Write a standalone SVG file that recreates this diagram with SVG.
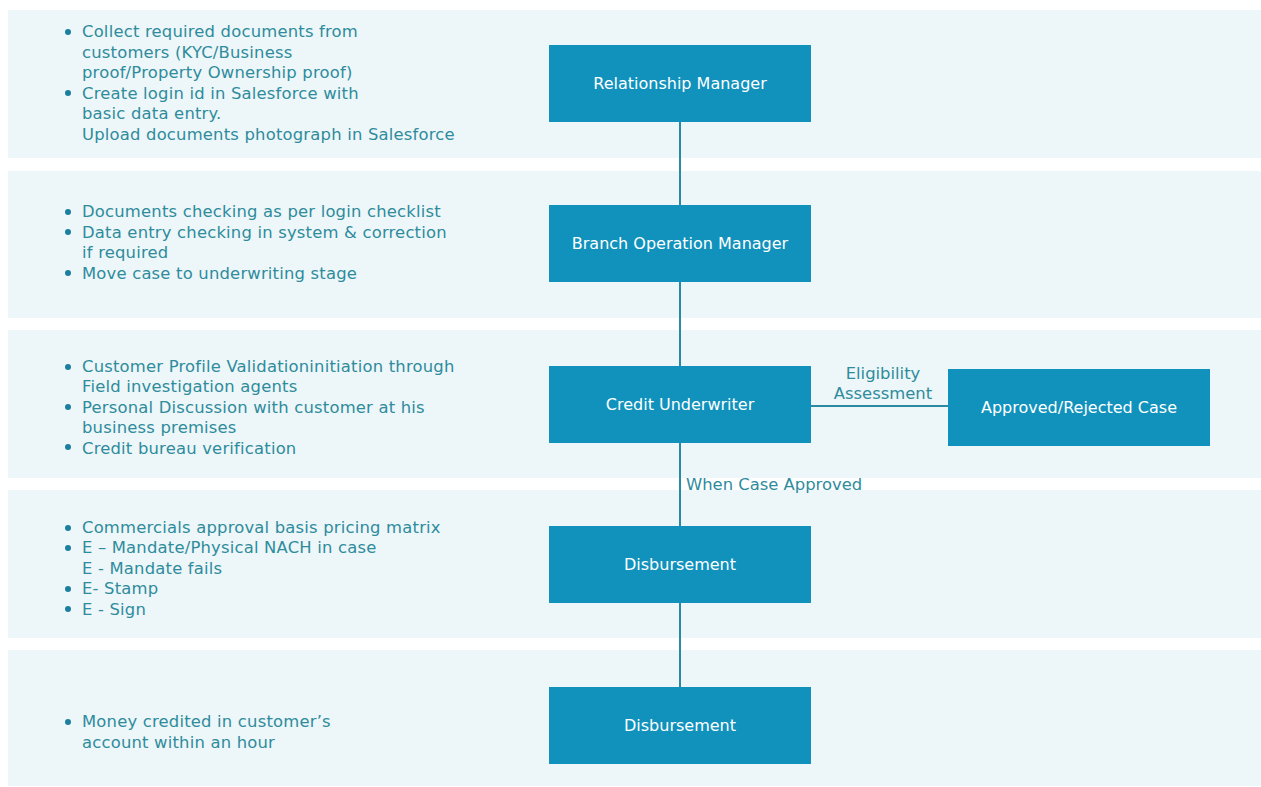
<svg xmlns="http://www.w3.org/2000/svg" width="1261" height="787" viewBox="0 0 1261 787">
  <style>
    .band { fill: #EDF6F9; }
    .txt { font-family: "DejaVu Sans", "Noto Sans", sans-serif; font-size: 16.4px; letter-spacing: 0.2px; fill: #2E8C9C; }
    .bul { fill: #1C7FA0; }
    .box { fill: #1092BD; }
    .lbl { font-family: "DejaVu Sans", "Noto Sans", sans-serif; font-size: 16px; fill: #FFFFFF; text-anchor: middle; }
    .conn { stroke: #2A8AA3; stroke-width: 2; fill: none; }
    .clbl { font-family: "DejaVu Sans", "Noto Sans", sans-serif; font-size: 16.4px; fill: #2E8C9C; }
  </style>
  <rect width="1261" height="787" fill="#FFFFFF"/>
  <g id="bands">
    <rect class="band" x="8" y="10" width="1253" height="148"/>
    <rect class="band" x="8" y="171" width="1253" height="147"/>
    <rect class="band" x="8" y="330" width="1253" height="148"/>
    <rect class="band" x="8" y="490" width="1253" height="148"/>
    <rect class="band" x="8" y="650" width="1253" height="136"/>
  </g>
  <g id="notes-1">
    <circle class="bul" cx="68" cy="32" r="3"/>
    <circle class="bul" cx="68" cy="93" r="3"/>
    <text class="txt" x="82" y="37">Collect required documents from</text>
    <text class="txt" x="82" y="57.5">customers (KYC/Business</text>
    <text class="txt" x="82" y="78">proof/Property Ownership proof)</text>
    <text class="txt" x="82" y="98.5">Create login id in Salesforce with</text>
    <text class="txt" x="82" y="119">basic data entry.</text>
    <text class="txt" x="82" y="139.5">Upload documents photograph in Salesforce</text>
  </g>
  <g id="notes-2">
    <circle class="bul" cx="68" cy="212" r="3"/>
    <circle class="bul" cx="68" cy="232" r="3"/>
    <circle class="bul" cx="68" cy="273" r="3"/>
    <text class="txt" x="82" y="217">Documents checking as per login checklist</text>
    <text class="txt" x="82" y="237.5">Data entry checking in system &amp; correction</text>
    <text class="txt" x="82" y="258">if required</text>
    <text class="txt" x="82" y="278.5">Move case to underwriting stage</text>
  </g>
  <g id="notes-3">
    <circle class="bul" cx="68" cy="367" r="3"/>
    <circle class="bul" cx="68" cy="407" r="3"/>
    <circle class="bul" cx="68" cy="447" r="3"/>
    <text class="txt" x="82" y="371.5">Customer Profile Validationinitiation through</text>
    <text class="txt" x="82" y="392">Field investigation agents</text>
    <text class="txt" x="82" y="412.5">Personal Discussion  with customer at his</text>
    <text class="txt" x="82" y="433">business premises</text>
    <text class="txt" x="82" y="453.5">Credit bureau verification</text>
  </g>
  <g id="notes-4">
    <circle class="bul" cx="68" cy="528" r="3"/>
    <circle class="bul" cx="68" cy="548" r="3"/>
    <circle class="bul" cx="68" cy="589" r="3"/>
    <circle class="bul" cx="68" cy="609" r="3"/>
    <text class="txt" x="82" y="532.5">Commercials approval basis pricing matrix</text>
    <text class="txt" x="82" y="553">E – Mandate/Physical NACH in case</text>
    <text class="txt" x="82" y="573.5">E - Mandate fails</text>
    <text class="txt" x="82" y="594">E- Stamp</text>
    <text class="txt" x="82" y="614.5">E - Sign</text>
  </g>
  <g id="notes-5">
    <circle class="bul" cx="68" cy="722" r="3"/>
    <text class="txt" x="82" y="727">Money credited in customer’s</text>
    <text class="txt" x="82" y="747.5">account within an hour</text>
  </g>
  <g id="connectors">
    <line class="conn" x1="680" y1="122" x2="680" y2="205"/>
    <line class="conn" x1="680" y1="282" x2="680" y2="366"/>
    <line class="conn" x1="680" y1="443" x2="680" y2="526"/>
    <line class="conn" x1="680" y1="603" x2="680" y2="687"/>
    <line class="conn" x1="811" y1="406" x2="948" y2="406"/>
    <text class="clbl" x="883" y="379" text-anchor="middle">Eligibility</text>
    <text class="clbl" x="883" y="399" text-anchor="middle">Assessment</text>
    <text class="clbl" x="686" y="490">When Case Approved</text>
  </g>
  <g id="relationship-manager">
    <rect class="box" x="549" y="45" width="262" height="77"/>
    <text class="lbl" x="680" y="88.5">Relationship Manager</text>
  </g>
  <g id="branch-operation-manager">
    <rect class="box" x="549" y="205" width="262" height="77"/>
    <text class="lbl" x="680" y="248.5">Branch Operation Manager</text>
  </g>
  <g id="credit-underwriter">
    <rect class="box" x="549" y="366" width="262" height="77"/>
    <text class="lbl" x="680" y="409.5">Credit Underwriter</text>
  </g>
  <g id="approved-rejected-case">
    <rect class="box" x="948" y="369" width="262" height="77"/>
    <text class="lbl" x="1079" y="412.5">Approved/Rejected Case</text>
  </g>
  <g id="disbursement-1">
    <rect class="box" x="549" y="526" width="262" height="77"/>
    <text class="lbl" x="680" y="569.5">Disbursement</text>
  </g>
  <g id="disbursement-2">
    <rect class="box" x="549" y="687" width="262" height="77"/>
    <text class="lbl" x="680" y="730.5">Disbursement</text>
  </g>
</svg>
